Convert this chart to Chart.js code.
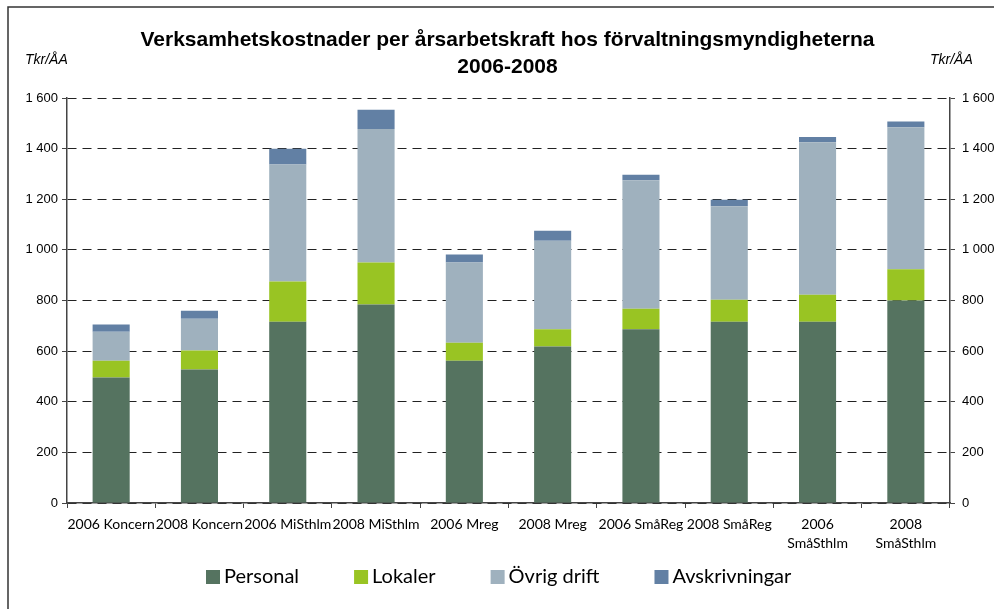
<!DOCTYPE html>
<html>
<head>
<meta charset="utf-8">
<script src="https://cdn.jsdelivr.net/npm/chart.js@4"></script>
<style>
html,body{margin:0;padding:0;background:#fff;}
#wrap{position:relative;width:994px;height:609px;}
</style>
</head>
<body>
<div id="wrap"><canvas id="c" width="994" height="609"></canvas></div>
<script>
const categories = [
  "2006 Koncern", "2008 Koncern", "2006 MiSthlm", "2008 MiSthlm", "2006 Mreg",
  "2008 Mreg", "2006 SmåReg", "2008 SmåReg", ["2006", "SmåSthlm"], ["2008", "SmåSthlm"]
];
const personal      = [496, 527, 716, 784, 562, 618, 686, 716, 716, 800];
const lokaler       = [ 66,  75, 159, 166,  71,  68,  81,  87, 107, 123];
const ovrigDrift    = [115, 126, 462, 528, 317, 350, 508, 369, 602, 561];
const avskrivningar = [ 28,  32,  63,  76,  32,  40,  22,  26,  21,  23];
const seriesNames = ["Personal", "Lokaler", "Övrig drift", "Avskrivningar"];
const yTicks = [0, 200, 400, 600, 800, 1000, 1200, 1400, 1600];
const titleLines = ["Verksamhetskostnader per årsarbetskraft hos förvaltningsmyndigheterna", "2006-2008"];
const unitLabel = "Tkr/ÅA";

const colors = ["#557360", "#99c423", "#9fb1be", "#6280a4"];
const fmt = v => String(v).replace(/\B(?=(\d{3})+(?!\d))/g, " ");

const decor = {
  id: "decor",
  beforeDraw(chart) {
    const ctx = chart.ctx;
    ctx.save();
    ctx.fillStyle = "#fff";
    ctx.fillRect(0, 0, chart.width, chart.height);
    ctx.strokeStyle = "#333";
    ctx.lineWidth = 1.5;
    ctx.beginPath();
    ctx.moveTo(8, 609);
    ctx.lineTo(8, 7);
    ctx.lineTo(994, 7);
    ctx.stroke();
    ctx.restore();
  },
  afterDraw(chart) {
    const ctx = chart.ctx;
    const ca = chart.chartArea;
    ctx.save();
    // title
    ctx.fillStyle = "#000";
    ctx.textAlign = "center";
    ctx.textBaseline = "middle";
    ctx.font = "bold 21px 'Liberation Sans', Arial, sans-serif";
    const cx = (ca.left + ca.right) / 2 - 1;
    ctx.fillText(titleLines[0], cx, 40);
    ctx.fillText(titleLines[1], cx, 67);
    // unit labels
    ctx.font = "italic 14px 'Liberation Sans', Arial, sans-serif";
    ctx.textAlign = "left";
    ctx.fillText(unitLabel, 25, 60);
    ctx.fillText(unitLabel, 930, 60);
    // legend
    ctx.font = "20px Lato, sans-serif";
    ctx.textBaseline = "middle";
    const ly = 577;
    let x = 206;
    chart.data.datasets.forEach((ds, i) => {
      ctx.fillStyle = ds.backgroundColor;
      ctx.fillRect(x, ly - 7, 14, 14);
      ctx.fillStyle = "#000";
      ctx.fillText(ds.label, x + 18, ly);
      x += 18 + ctx.measureText(ds.label).width + 55;
    });
    ctx.restore();
  }
};

const mk = (label, data, i) => ({
  label, data, backgroundColor: colors[i], borderWidth: 0,
  barPercentage: 0.42, categoryPercentage: 1, yAxisID: "y"
});

new Chart(document.getElementById("c"), {
  type: "bar",
  data: {
    labels: categories,
    datasets: [
      mk(seriesNames[0], personal, 0),
      mk(seriesNames[1], lokaler, 1),
      mk(seriesNames[2], ovrigDrift, 2),
      mk(seriesNames[3], avskrivningar, 3)
    ]
  },
  options: {
    responsive: false,
    animation: false,
    devicePixelRatio: 1,
    layout: { padding: { top: 98, left: 0, right: 0, bottom: 0 } },
    plugins: { legend: { display: false }, title: { display: false }, tooltip: { enabled: false } },
    scales: {
      x: {
        stacked: true,
        afterFit(s) { s.height = 106; },
        grid: { drawOnChartArea: false, offset: true, tickLength: 5, tickColor: "#444", tickWidth: 1 },
        border: { color: "#444", width: 1.5 },
        ticks: {
          color: "#000", padding: 7, maxRotation: 0, autoSkip: false,
          font: { family: "Lato, sans-serif", size: 14, lineHeight: 1.35 }
        }
      },
      y: {
        stacked: true, position: "left", min: 0, max: 1600,
        afterFit(s) { s.width = 67; },
        afterBuildTicks(s) { s.ticks = yTicks.map(v => ({ value: v })); },
        grid: { color: "#222", lineWidth: 1, tickLength: 5, tickColor: "#444", drawTicks: true },
        border: { color: "#444", width: 1.5, dash: [9, 6] },
        ticks: { color: "#000", padding: 4, callback: v => fmt(v),
          font: { family: "'Liberation Sans', Arial, sans-serif", size: 13 } }
      },
      y2: {
        position: "right", min: 0, max: 1600,
        afterFit(s) { s.width = 44; },
        afterBuildTicks(s) { s.ticks = yTicks.map(v => ({ value: v })); },
        grid: { drawOnChartArea: false, tickLength: 5, tickColor: "#444" },
        border: { color: "#444", width: 1.5 },
        ticks: { color: "#000", padding: 7, callback: v => fmt(v),
          font: { family: "'Liberation Sans', Arial, sans-serif", size: 13 } }
      }
    }
  },
  plugins: [decor]
});
</script>
</body>
</html>
